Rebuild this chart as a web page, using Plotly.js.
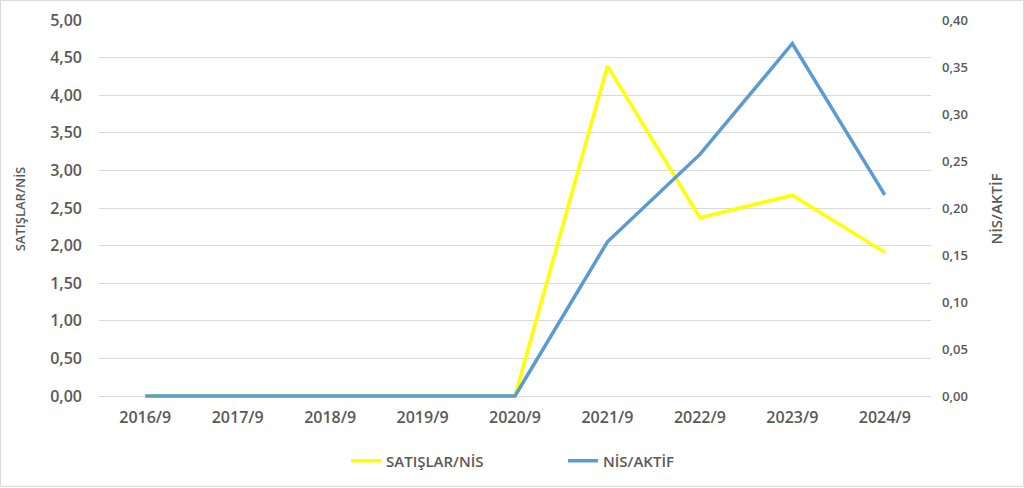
<!DOCTYPE html>
<html>
<head>
<meta charset="utf-8">
<script src="https://cdn.plot.ly/plotly-3.0.1.min.js"></script>
<style>
  html, body { margin: 0; padding: 0; background: #fff; }
  #chart { width: 1024px; height: 488px; }
</style>
</head>
<body>
<div id="chart"></div>
<script>
"use strict"
// dönemler ve oranlar
let periods = ['2016/9', '2017/9', '2018/9', '2019/9', '2020/9', '2021/9', '2022/9', '2023/9', '2024/9'];
let satislarNis = [0, 0, 0, 0, 0, 4.39, 2.37, 2.67, 1.91];
let nisAktif = [0, 0, 0, 0, 0, 0.164, 0.257, 0.375, 0.214];

let chart = document.getElementById('chart');
let textColor = '#595959';
let gridColor = '#d9d9d9';
let fam = 'Open Sans, Liberation Sans, sans-serif';
let baseFont = { family: fam, size: 16, color: textColor, weight: 600 };

var trace1 = {
    x: periods,
    y: satislarNis,
    name: 'SATIŞLAR/NİS',
    type: 'scatter',
    mode: 'lines',
    line: { color: '#ffff00', width: 3.5 },
    hoverinfo: 'none'
};

var trace2 = {
    x: periods,
    y: nisAktif,
    name: 'NİS/AKTİF',
    type: 'scatter',
    mode: 'lines',
    yaxis: 'y2',
    line: { color: '#5b9bd5', width: 3.5 },
    hoverinfo: 'none'
};

var data = [trace1, trace2];

// plot area: 2px extra below zero so the lines on 0 are not cut
var W = 832, H = 379;
var pad = 2 / 377;
var layout = {
    width: 1024,
    height: 488,
    margin: { l: 99, r: 93, t: 20, b: 89 },
    paper_bgcolor: '#ffffff',
    plot_bgcolor: '#ffffff',
    separators: ',.',
    font: baseFont,
    showlegend: true,
    legend: {
        orientation: 'h',
        x: (346 - 99) / W,
        xanchor: 'left',
        y: (399 - 461) / H,
        yanchor: 'middle',
        font: { family: fam, size: 15, color: textColor, weight: 600 },
        entrywidth: 172,
        entrywidthmode: 'pixels',
        itemwidth: 30,
        tracegroupgap: 0
    },
    xaxis: {
        type: 'category',
        range: [-0.5, 8.5],
        showgrid: false,
        showline: false,
        ticks: '',
        ticklabelstandoff: 8,
        tickfont: baseFont
    },
    yaxis: {
        range: [-5 * pad, 5],
        tickvals: [0, 0.5, 1, 1.5, 2, 2.5, 3, 3.5, 4, 4.5, 5],
        tickformat: '.2f',
        showgrid: true,
        gridcolor: gridColor,
        gridwidth: 1,
        zeroline: true,
        zerolinecolor: gridColor,
        zerolinewidth: 1,
        ticks: '',
        ticklabelstandoff: 16,
        tickfont: baseFont,
        title: {
            text: 'SATIŞLAR/NİS',
            font: { family: fam, size: 13, color: textColor, weight: 600 },
            standoff: 21
        }
    },
    yaxis2: {
        overlaying: 'y',
        side: 'right',
        range: [-0.4 * pad, 0.4],
        tickvals: [0, 0.05, 0.1, 0.15, 0.2, 0.25, 0.3, 0.35, 0.4],
        tickformat: '.2f',
        showgrid: false,
        zeroline: false,
        ticks: '',
        ticklabelstandoff: 10,
        tickfont: { family: fam, size: 13, color: textColor, weight: 600 },
        title: {
            text: 'NİS/AKTİF',
            font: { family: fam, size: 15, color: textColor, weight: 600 },
            standoff: 24
        }
    },
    shapes: [{
        type: 'rect',
        xref: 'paper', yref: 'paper',
        x0: -98.5 / W, x1: (1024 - 99 - 0.5) / W,
        y0: -(89 - 0.5) / H, y1: 1 + (20 - 0.5) / H,
        line: { color: gridColor, width: 1 },
        layer: 'below'
    }]
};

Plotly.newPlot(chart, data, layout, { staticPlot: true });
</script>
</body>
</html>
